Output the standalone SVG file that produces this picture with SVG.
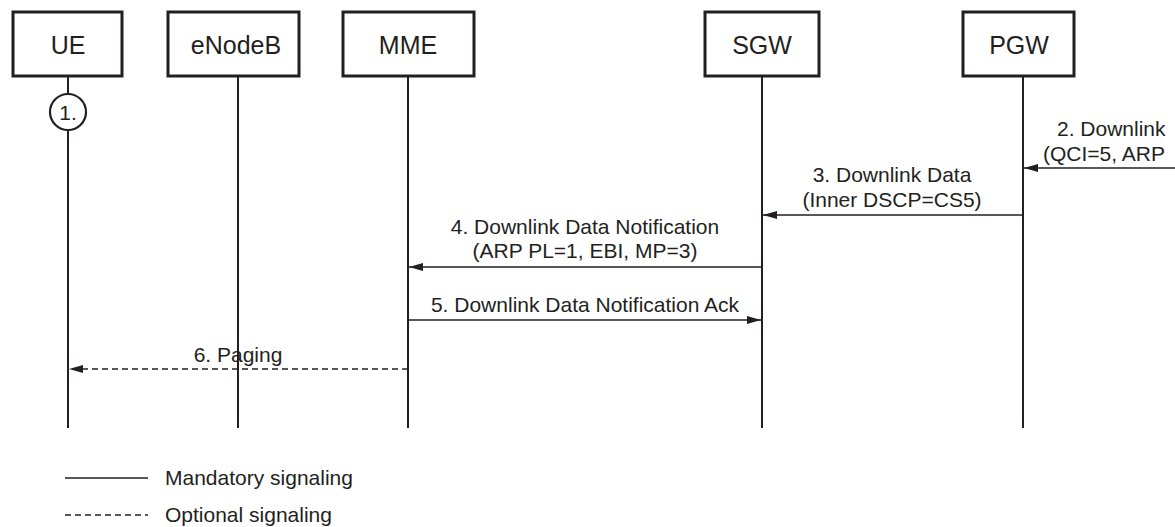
<svg xmlns="http://www.w3.org/2000/svg" width="1175" height="527" viewBox="0 0 1175 527">
<defs>
<style>
.box{fill:#fff;stroke:#231f20;stroke-width:3}
.life{stroke:#231f20;stroke-width:2;fill:none}
.msg{stroke:#231f20;stroke-width:1.6;fill:none}
.dash{stroke-dasharray:6 4}
text{font-family:"Liberation Sans",Arial,sans-serif;fill:#231f20}
.lbl{font-size:25px;text-anchor:middle}
.t{font-size:21px;text-anchor:middle}
.lg{font-size:21px}
</style>
<marker id="ah" viewBox="0 0 14 8" refX="14" refY="4" markerWidth="14" markerHeight="8" markerUnits="userSpaceOnUse" orient="auto">
<path d="M0,0 L14,4 L0,8 Z" fill="#231f20"/>
</marker>
</defs>
<rect width="1175" height="527" fill="#fff"/>
<g id="lifelines">
<line class="life" x1="68" y1="76" x2="68" y2="428"/>
<line class="life" x1="238" y1="76" x2="238" y2="428"/>
<line class="life" x1="408" y1="76" x2="408" y2="428"/>
<line class="life" x1="762" y1="76" x2="762" y2="428"/>
<line class="life" x1="1023" y1="76" x2="1023" y2="428"/>
</g>
<g id="UE"><rect class="box" x="13" y="12" width="109" height="64"/><text class="lbl" x="68" y="54">UE</text></g>
<g id="eNodeB"><rect class="box" x="168" y="12" width="131" height="64"/><text class="lbl" x="236" y="54">eNodeB</text></g>
<g id="MME"><rect class="box" x="343" y="12" width="131" height="64"/><text class="lbl" x="408" y="54">MME</text></g>
<g id="SGW"><rect class="box" x="705" y="12" width="114" height="64"/><text class="lbl" x="762" y="54">SGW</text></g>
<g id="PGW"><rect class="box" x="963" y="12" width="111" height="64"/><text class="lbl" x="1019" y="54">PGW</text></g>
<g id="step1"><circle cx="68" cy="112" r="18" fill="#fff" stroke="#231f20" stroke-width="2.2"/><text x="68" y="120" font-size="21" text-anchor="middle">1.</text></g>
<g id="connectors">
<line class="msg" x1="1176" y1="168" x2="1024" y2="168" marker-end="url(#ah)"/>
<text class="lg" x="1057" y="136">2. Downlink</text>
<text class="lg" x="1043" y="161">(QCI=5, ARP</text>
<line class="msg" x1="1023" y1="215" x2="763" y2="215" marker-end="url(#ah)"/>
<text class="t" x="892" y="182">3. Downlink Data</text>
<text class="t" x="892" y="207">(Inner DSCP=CS5)</text>
<line class="msg" x1="762" y1="267" x2="409" y2="267" marker-end="url(#ah)"/>
<text class="t" x="585" y="234">4. Downlink Data Notification</text>
<text class="t" x="585" y="258">(ARP PL=1, EBI, MP=3)</text>
<line class="msg" x1="408" y1="320" x2="761" y2="320" marker-end="url(#ah)"/>
<text class="t" x="585" y="312">5. Downlink Data Notification Ack</text>
<line class="msg dash" x1="408" y1="369" x2="69" y2="369" marker-end="url(#ah)"/>
<text class="t" x="238" y="362">6. Paging</text>
</g>
<g id="legend">
<line class="msg" x1="65" y1="478" x2="148" y2="478"/>
<text class="lg" x="165" y="485">Mandatory signaling</text>
<line class="msg dash" x1="65" y1="515" x2="148" y2="515"/>
<text class="lg" x="165" y="522">Optional signaling</text>
</g>
</svg>
